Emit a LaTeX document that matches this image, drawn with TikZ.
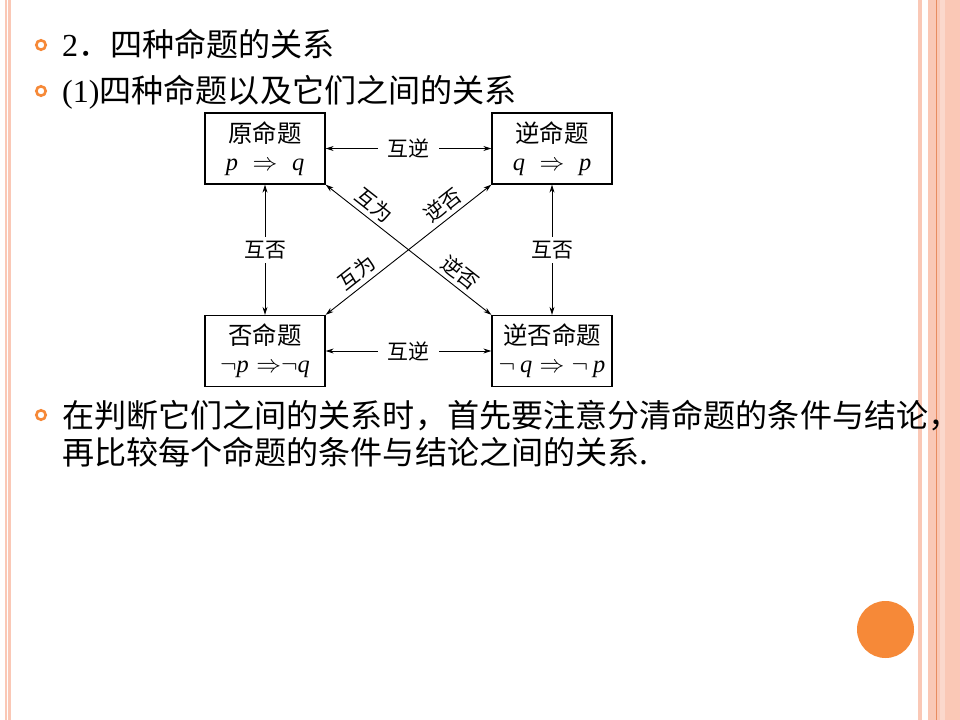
\documentclass[tikz,border=0pt]{standalone}
\usepackage{fontspec}
\setmainfont{Liberation Serif}
\newfontfamily\cjk{Noto Sans CJK SC}
\usetikzlibrary{arrows.meta}
\definecolor{slidepink}{RGB}{250,200,182}
\definecolor{slideorange}{RGB}{246,137,56}
\definecolor{lineorange}{RGB}{232,140,96}

\begin{document}
\begin{tikzpicture}[x=1bp,y=-1bp,
  box/.style={draw,line width=1.3bp,minimum width=120bp,minimum height=71bp,align=center,inner sep=0pt,font=\fontsize{24.5}{28}\selectfont},
  rel/.style={{Stealth[length=8bp,width=5bp]}-{Stealth[length=8bp,width=5bp]},line width=0.9bp},
  lbl/.style={fill=white,inner xsep=10bp,inner ysep=4bp,font=\fontsize{21}{22}\selectfont\cjk},
  tag/.style={inner sep=0pt,font=\fontsize{20.5}{22}\selectfont\cjk},
  txt/.style={anchor=base west,inner sep=0pt,font=\fontsize{32.2}{36}\selectfont},
  bulletring/.style={draw=slideorange,line width=2.6bp}]
  \useasboundingbox (0,0) rectangle (960,720);
  \fill[white] (0,0) rectangle (960,720);
  \fill[slidepink] (5,0) rectangle (6.5,720);
  \fill[slidepink] (7.5,0) rectangle (11,720);
  \fill[slidepink] (918,0) rectangle (922,720);
  \fill[slidepink] (928,0) rectangle (960,720);
  \fill[slidepink!70!white] (940,0) rectangle (945,720);
  \draw[lineorange,line width=1.2bp] (936.5,0) -- (936.5,720);
  \fill[slideorange] (885.5,629.5) circle (28.5);
  \foreach \y in {45,91,415}
    \draw[bulletring] (41,\y) circle (4.7);
  \node[txt] (head) at (62,57) {2{\cjk ．四种命题的关系}};
  \node[txt] (sub) at (62,103) {(1){\cjk 四种命题以及它们之间的关系}};
  \node[txt] (par1) at (62,427) {\cjk 在判断它们之间的关系时，首先要注意分清命题的条件与结论，};
  \node[txt] (par2) at (62,464) {\cjk 再比较每个命题的条件与结论之间的关系.};
  \node[box] (yuan) at (265,148.5) {{\cjk 原命题}\\\textit{p}\hspace{0.6em}$\Rightarrow$\hspace{0.6em}\textit{q}};
  \node[box] (ni) at (552,148.5) {{\cjk 逆命题}\\\textit{q}\hspace{0.6em}$\Rightarrow$\hspace{0.6em}\textit{p}};
  \node[box] (fou) at (265,351) {{\cjk 否命题}\\$\neg$\textit{p}\hspace{0.3em}$\Rightarrow$$\neg$\textit{q}};
  \node[box] (nifou) at (552,351) {{\cjk 逆否命题}\\$\neg$\hspace{0.2em}\textit{q}\hspace{0.3em}$\Rightarrow$\hspace{0.3em}$\neg$\hspace{0.2em}\textit{p}};
  \draw[rel] (yuan) -- node[lbl] (top) {互逆} (ni);
  \draw[rel] (fou) -- node[lbl] (bottom) {互逆} (nifou);
  \draw[rel] (yuan) -- node[lbl] (left) {互否} (fou);
  \draw[rel] (ni) -- node[lbl] (right) {互否} (nifou);
  \draw[rel] (yuan.south east) -- node[tag,sloped,above=4bp,pos=0.24] (dh1) {互为}
    node[tag,sloped,above=4bp,pos=0.76] (dn1) {逆否} (nifou.north west);
  \draw[rel] (fou.north east) -- node[tag,sloped,above=4bp,pos=0.24] (dh2) {互为}
    node[tag,sloped,above=4bp,pos=0.76] (dn2) {逆否} (ni.south west);
\end{tikzpicture}
\end{document}
